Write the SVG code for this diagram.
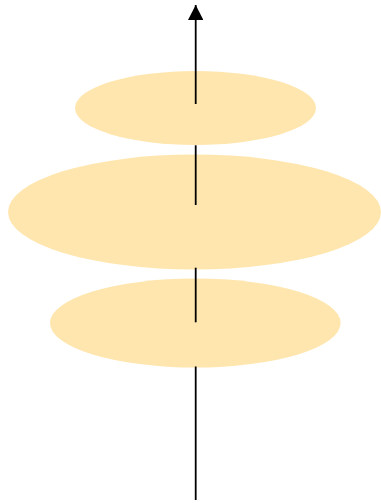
<svg xmlns="http://www.w3.org/2000/svg" width="381" height="503" viewBox="0 0 381 503">
<style>
.node{fill:#ffe6ae;stroke:none}
.edge{stroke:#000;stroke-width:1.8;fill:none}
</style>
<defs>
<marker id="arrow" viewBox="0 0 16 15" refX="15" refY="7.75" markerUnits="userSpaceOnUse" markerWidth="16" markerHeight="15.5" orient="auto">
<path d="M0,0 L15,7.75 L0,15.5 Z" fill="#000"/>
</marker>
</defs>
<rect width="381" height="503" fill="#fff"/>
<g id="node1"><ellipse class="node" cx="195.5" cy="108" rx="120.5" ry="37"/></g>
<g id="node2"><ellipse class="node" cx="194.5" cy="212" rx="186.5" ry="57.5"/></g>
<g id="node3"><ellipse class="node" cx="195.3" cy="323" rx="145.3" ry="44.5"/></g>
<g id="connectors">
<line class="edge" x1="195.7" y1="500" x2="195.7" y2="366.5"/>
<line class="edge" x1="195.7" y1="322.3" x2="195.7" y2="267.7"/>
<line class="edge" x1="195.7" y1="205" x2="195.7" y2="145.3"/>
<line class="edge" x1="195.7" y1="104" x2="195.7" y2="5" marker-end="url(#arrow)"/>
</g>
</svg>
